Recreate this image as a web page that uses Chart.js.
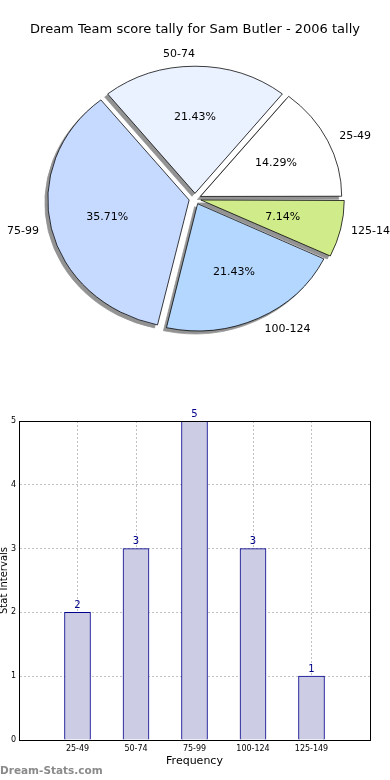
<!DOCTYPE html>
<html>
<head>
<meta charset="utf-8">
<script src="https://cdn.jsdelivr.net/npm/chart.js"></script>
<style>
  body { margin: 0; background: #fff; }
  .wrap { position: relative; width: 390px; height: 780px; overflow: hidden; }
  #pie { position: absolute; left: 0; top: 0; }
  #bar { position: absolute; left: 0; top: 390px; }
  .mark { position: absolute; left: 0; top: 764px; font: bold 10.5px "DejaVu Sans"; color: #8a8a8a; }
</style>
</head>
<body>
<div class="wrap">
  <canvas id="pie" width="390" height="390"></canvas>
  <canvas id="bar" width="390" height="390"></canvas>
  <div class="mark">Dream-Stats.com</div>
</div>
<script>
const scoreBands = ["25-49", "50-74", "75-99", "100-124", "125-149"];
const tallies = [2, 3, 5, 3, 1];
const titleText = "Dream Team score tally for Sam Butler - 2006 tally";

const FONT = "'DejaVu Sans', sans-serif";
Chart.defaults.font.family = FONT;

// matplotlib pie is a bit squashed and goes counter-clockwise
const SQUASH = 127 / 140;
const EXPLODE = 24; // chart.js moves arcs by offset / 4

const pieShape = {
  id: "pieShape",
  beforeDatasetsDraw(chart) {
    const arcs = chart.getDatasetMeta(0).data;
    const { x, y } = arcs[0];
    const ctx = chart.ctx;
    const squash = () => {
      ctx.translate(x, y);
      ctx.scale(-1, SQUASH);
      ctx.translate(-x, -y);
    };

    // grey drop shadow, shifted down-left
    ctx.save();
    ctx.translate(-3, 3);
    squash();
    arcs.forEach((arc) => {
      const opts = arc.options;
      arc.options = Object.assign({}, opts, { backgroundColor: "#939393", borderColor: "#939393" });
      arc.draw(ctx);
      arc.options = opts;
    });
    ctx.restore();

    ctx.save();
    squash();
  },
  afterDatasetsDraw(chart) {
    const ctx = chart.ctx;
    ctx.restore();

    const values = chart.data.datasets[0].data;
    const total = values.reduce((a, b) => a + b, 0);
    ctx.save();
    ctx.font = "11px " + FONT;
    ctx.fillStyle = "#000";
    ctx.textBaseline = "middle";
    chart.getDatasetMeta(0).data.forEach((arc, i) => {
      const p = arc.getProps(["x", "y", "startAngle", "endAngle", "outerRadius"]);
      const mid = (p.startAngle + p.endAngle) / 2;
      const dx = -Math.cos(mid);
      const dy = Math.sin(mid) * SQUASH;
      const at = (dist) => [p.x + dx * dist, p.y + dy * dist];

      const [lx, ly] = at(EXPLODE / 4 + p.outerRadius * 1.1);
      ctx.textAlign = dx > 0.01 ? "left" : "right";
      ctx.fillText(chart.data.labels[i], lx, ly);

      const [px, py] = at(EXPLODE / 4 + p.outerRadius * 0.6);
      ctx.textAlign = "center";
      ctx.fillText((values[i] / total * 100).toFixed(2) + "%", px, py);
    });
    ctx.restore();
  }
};

new Chart(document.getElementById("pie"), {
  type: "pie",
  data: {
    labels: scoreBands,
    datasets: [{
      data: tallies,
      backgroundColor: ["#ffffff", "#eaf1ff", "#c6d9ff", "#b4d7ff", "#d0eb8a"],
      borderColor: "#000",
      borderWidth: 0.8,
      offset: EXPLODE,
      hoverOffset: EXPLODE,
      radius: 140
    }]
  },
  options: {
    responsive: false,
    animation: false,
    rotation: 270,
    layout: { padding: { bottom: 30 } },
    plugins: {
      legend: { display: false },
      tooltip: { enabled: false },
      title: {
        display: true,
        text: titleText,
        color: "#000",
        font: { size: 13, weight: "normal" },
        padding: { top: 22, bottom: 0 }
      }
    }
  },
  plugins: [pieShape]
});

const barLabels = {
  id: "barLabels",
  afterDatasetsDraw(chart) {
    const ctx = chart.ctx;
    const values = chart.data.datasets[0].data;
    ctx.save();
    ctx.font = "10px " + FONT;
    ctx.fillStyle = "#00008b";
    ctx.textAlign = "center";
    ctx.textBaseline = "bottom";
    chart.getDatasetMeta(0).data.forEach((bar, i) => {
      if (values[i] == null) return;
      ctx.fillText(String(values[i]), bar.x, bar.y - 2);
    });
    ctx.restore();
  }
};

const frame = {
  id: "frame",
  afterDraw(chart) {
    const { left, top, right, bottom } = chart.chartArea;
    const ctx = chart.ctx;
    ctx.save();
    ctx.strokeStyle = "#000";
    ctx.lineWidth = 1;
    ctx.strokeRect(Math.round(left) + 0.5, Math.round(top) + 0.5,
      Math.round(right - left), Math.round(bottom - top));
    ctx.restore();
  }
};

new Chart(document.getElementById("bar"), {
  type: "bar",
  data: {
    labels: ["", ...scoreBands, ""],
    datasets: [{
      data: [null, ...tallies, null],
      backgroundColor: "rgb(204, 204, 228)",
      borderColor: "#00008b",
      borderWidth: 1,
      barThickness: 26
    }]
  },
  options: {
    responsive: false,
    animation: false,
    layout: { padding: { top: 31, right: 20, left: 0, bottom: 0 } },
    plugins: {
      legend: { display: false },
      tooltip: { enabled: false }
    },
    scales: {
      x: {
        offset: false,
        z: 1,
        grid: { offset: false, color: "#c2c2c2", lineWidth: 1, drawTicks: false },
        border: { color: "#000", dash: [2, 2] },
        ticks: { color: "#000", font: { size: 8 }, padding: 4, autoSkip: false, maxRotation: 0 },
        title: {
          display: true,
          text: "Frequency",
          color: "#000",
          font: { size: 11 },
          padding: { top: 0, bottom: 12 }
        },
        afterFit(scale) { scale.height = 40; }
      },
      y: {
        min: 0,
        max: 5,
        z: 1,
        grid: { color: "#c2c2c2", lineWidth: 1, drawTicks: false },
        border: { color: "#000", dash: [2, 2] },
        ticks: { stepSize: 1, color: "#000", font: { size: 8 }, padding: 3 },
        title: {
          display: true,
          text: "Stat Intervals",
          color: "#000",
          font: { size: 10 },
          padding: { top: -2, bottom: 0 }
        },
        afterFit(scale) { scale.width = 19; }
      }
    }
  },
  plugins: [barLabels, frame]
});
</script>
</body>
</html>
